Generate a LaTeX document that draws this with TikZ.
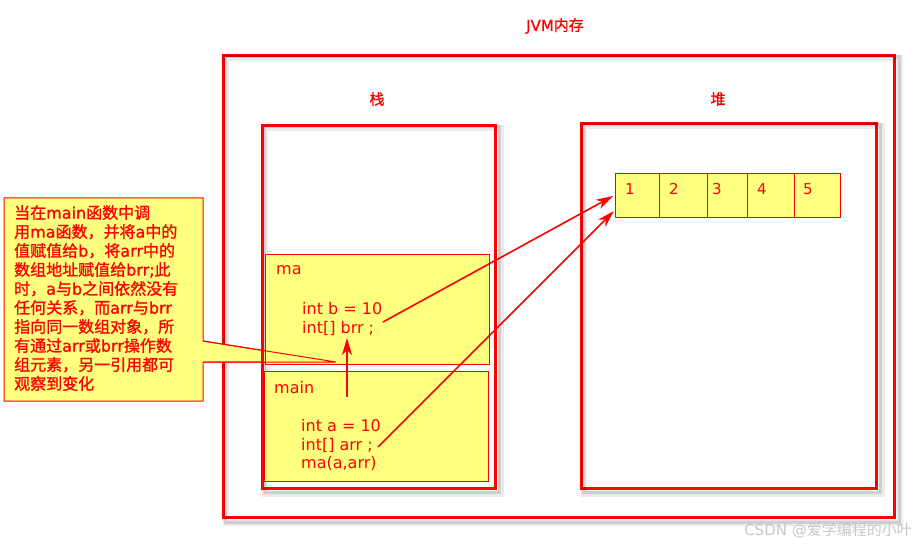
\documentclass[tikz,border=0pt]{standalone}
\usepackage{fontspec}
\setmainfont{DejaVu Sans}
\newfontfamily\cjk{Noto Sans CJK SC}
\newfontfamily\cjkb[FakeBold=1.2]{Noto Sans CJK SC}
\newfontfamily\latb[FakeBold=1.0]{DejaVu Sans}
\usetikzlibrary{arrows.meta}
\definecolor{jred}{RGB}{255,0,0}
\definecolor{jyellow}{RGB}{255,255,128}
\newcommand\lt[1]{{\latb #1}}
\begin{document}
\begin{tikzpicture}[x=1pt,y=-1pt,
  region/.style={draw=jred, line width=2.6pt, minimum width=#1, anchor=north west, inner sep=0},
  shadowA/.style={draw=black, line width=6pt, opacity=0.08},
  shadowB/.style={draw=black, line width=3pt, opacity=0.12},
  frame/.style={draw=jred, fill=jyellow, line width=1pt, anchor=north west, inner sep=0},
  code/.style={text=jred, font=\fontsize{16}{18}\selectfont, anchor=base west, inner sep=0},
  num/.style={text=jred, font=\fontsize{15}{18}\selectfont, inner sep=0},
  head/.style={text=jred, font=\cjkb\fontsize{15}{18}\selectfont, inner sep=0},
  ptr/.style={draw=jred, line width=1.6pt, -{Stealth[length=17pt,width=10pt,inset=5pt]}},
]
\useasboundingbox (0,0) rectangle (918,545);

% regions
\node[region=671pt, line width=3pt, minimum height=462pt] (jvm) at (222,54) {};
\node[region=233pt, minimum height=363pt] (stack) at (261,124) {};
\node[region=295pt, minimum height=365pt] (heap) at (580,122) {};
\foreach \r in {jvm,stack,heap}{
  \draw[shadowA] ([shift={(4,4)}]\r.north west) rectangle ([shift={(4,4)}]\r.south east);
  \draw[shadowB] ([shift={(3,3)}]\r.north west) rectangle ([shift={(3,3)}]\r.south east);
}

% titles
\node[head] (title) at (555,26) {{\lt{JVM}}内存};
\node[head] (stacklbl) at (377,99) {栈};
\node[head] (heaplbl) at (718,99) {堆};

% callout body (behind stack contents)
\path[fill=jyellow, draw=jred, line width=1pt]
  (4,198) -- (203,198) -- (203,341) -- (336,362) -- (203,362) -- (203,401) -- (4,401) -- cycle;

% redraw region outline over callout
\node[region=233pt, minimum height=363pt] at (261,124) {};

% frames
\node[frame, minimum width=224pt, minimum height=110pt] (ma) at (265,254) {};
\node[frame, minimum width=224pt, minimum height=110pt] (mainf) at (264,371) {};

% wedge edges over ma frame
\draw[jred, line width=1pt] (203,341) -- (336,362) -- (203,362);

% code text
\node[code] (malbl) at (276,275) {ma};
\node[code] (intb) at (302,315) {int b = 10};
\node[code] (brr) at (302,333) {int[] brr ;};
\node[code] (mainlbl) at (274,393) {main};
\node[code] (inta) at (301,431) {int a = 10};
\node[code] (arr) at (301,450) {int[] arr ;};
\node[code] (call) at (301,468) {ma(a,arr)};

% array cells
\node[frame, minimum width=44pt, minimum height=44pt] (c1) at (615,173) {};
\node[frame, minimum width=48pt, minimum height=44pt] (c2) at (659,173) {};
\node[frame, minimum width=40pt, minimum height=44pt] (c3) at (707,173) {};
\node[frame, minimum width=47pt, minimum height=44pt] (c4) at (747,173) {};
\node[frame, minimum width=46pt, minimum height=44pt] (c5) at (794,173) {};
\node[num] (n1) at (630,189) {1};
\node[num] (n2) at (674,189) {2};
\node[num] (n3) at (717,189) {3};
\node[num] (n4) at (762,189) {4};
\node[num] (n5) at (808,189) {5};

% connectors
\coordinate (brrEnd) at (383,322);
\coordinate (arrEnd) at (378,447);
\coordinate (t1) at (613,196);
\coordinate (t2) at (614,211);
\coordinate (upS) at (347,397);
\coordinate (upE) at (347,338);
\draw[ptr] (brrEnd) -- (t1);
\draw[ptr] (arrEnd) -- (t2);
\draw[ptr] (upS) -- (upE);

% callout text
\node[anchor=north west, inner sep=0, align=left, text=jred,
      font=\cjkb\fontsize{16}{19}\selectfont] (note) at (14,205) {%
当在\lt{main}函数中调\\
用\lt{ma}函数，并将\lt{a}中的\\
值赋值给\lt{b}，将\lt{arr}中的\\
数组地址赋值给\lt{brr;}此\\
时，\lt{a}与\lt{b}之间依然没有\\
任何关系，而\lt{arr}与\lt{brr}\\
指向同一数组对象，所\\
有通过\lt{arr}或\lt{brr}操作数\\
组元素，另一引用都可\\
观察到变化};

% watermark
\node[text=black!22, font=\cjk\fontsize{15}{18}\selectfont, anchor=east, inner sep=0] (wm) at (912,530) {{\rmfamily CSDN @}爱学编程的小叶};
\end{tikzpicture}
\end{document}
